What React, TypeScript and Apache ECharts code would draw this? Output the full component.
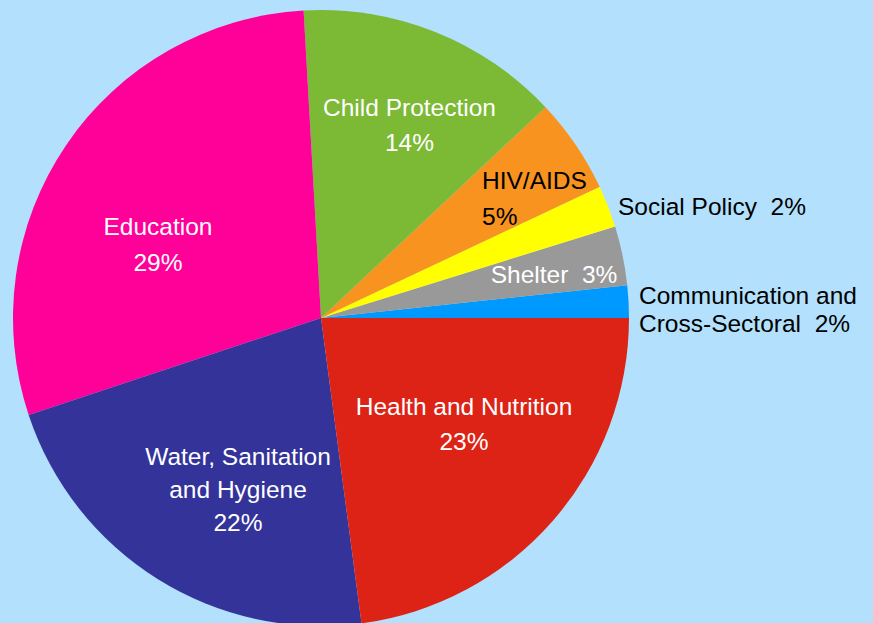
import React, { useEffect, useRef } from "react";
import * as echarts from "echarts";

// Categories in drawing order (counter-clockwise from 3 o'clock)
const categories = [
  "Communication and\nCross-Sectoral",
  "Shelter",
  "Social Policy",
  "HIV/AIDS",
  "Child Protection",
  "Education",
  "Water, Sanitation\nand Hygiene",
  "Health and Nutrition",
];
// Share of funding (%)
const values = [1.7, 3.1, 2.2, 5.0, 13.9, 29.2, 22.0, 22.9];
const colors = [
  "#0099ff",
  "#999999",
  "#ffff00",
  "#f7931e",
  "#7cb935",
  "#ff0099",
  "#333399",
  "#dd2316",
];
// label styling per slice
const labelColors = ["#000", "#fff", "#000", "#000", "#fff", "#fff", "#fff", "#fff"];
const inlinePercent = [true, true, true, false, false, false, false, false];
const labelLineHeights = [28, 28, 28, 36, 35, 36, 33, 35];
// label anchor positions [x, y, align]
const labelAnchors: [number, number, string][] = [
  [639, 309, "left"],
  [554, 274, "center"],
  [618, 206, "left"],
  [482, 198, "left"],
  [409.5, 125, "center"],
  [158, 244, "center"],
  [238, 489, "center"],
  [464, 424, "center"],
];

export default function App() {
  const ref = useRef<HTMLDivElement>(null);
  useEffect(() => {
    document.body.style.margin = "0";
    if (!ref.current) return;
    const chart = echarts.init(ref.current, undefined, { renderer: "svg" });
    const data = categories.map((name, i) => ({
      name,
      value: values[i],
      itemStyle: { color: colors[i] },
      label: {
        color: labelColors[i],
        lineHeight: labelLineHeights[i],
        align: labelAnchors[i][2] as any,
      },
    }));
    chart.setOption({
      animation: false,
      backgroundColor: "#b2e0fd",
      series: [
        {
          type: "pie",
          center: [321, 318],
          radius: [0, 308],
          startAngle: 0,
          clockwise: false,
          percentPrecision: 0,
          avoidLabelOverlap: false,
          itemStyle: { borderWidth: 0 },
          emphasis: { disabled: true },
          labelLine: { show: false },
          label: {
            show: true,
            position: "inside",
            fontFamily: "Arial, 'Liberation Sans', Helvetica, sans-serif",
            fontSize: 24.5,
            fontWeight: "normal",
            formatter: (p: any) =>
              inlinePercent[p.dataIndex]
                ? `${p.name}  ${Math.round(p.percent)}%`
                : `${p.name}\n${Math.round(p.percent)}%`,
          },
          labelLayout: (p: any) => {
            const a = labelAnchors[p.dataIndex];
            return { x: a[0], y: a[1], align: a[2], verticalAlign: "middle" };
          },
          data,
        },
      ],
    });
    return () => chart.dispose();
  }, []);
  return <div ref={ref} style={{ width: 873, height: 623 }} />;
}
